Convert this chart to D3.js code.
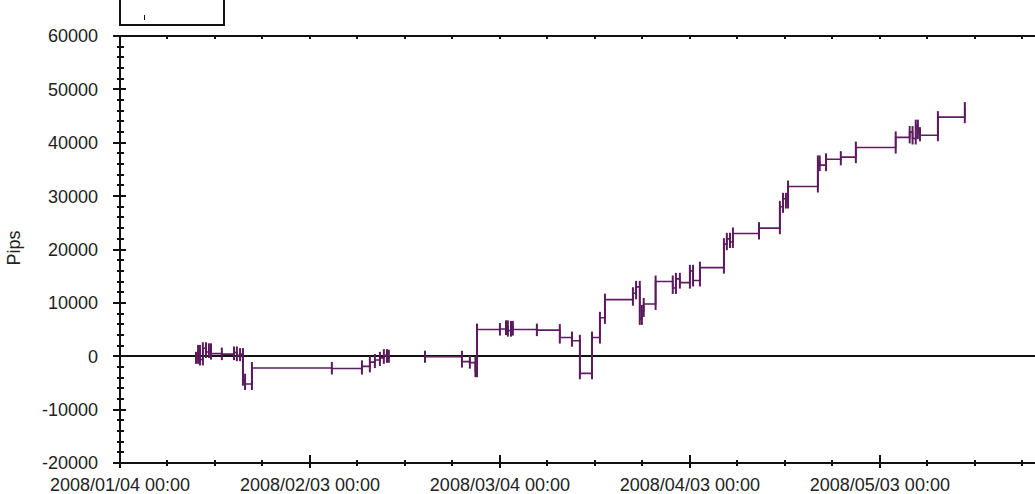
<!DOCTYPE html>
<meta charset="utf-8">
<style>
  body { margin: 0; background: #fff; }
  svg { display: block; }
  .lbl { font: 18px "Liberation Sans", Arial, sans-serif; fill: #222; }
  .ax { stroke: #111; stroke-width: 1.5; shape-rendering: crispEdges; }
</style>
<svg width="1035" height="494"></svg>
<script src="https://cdnjs.cloudflare.com/ajax/libs/d3/7.8.5/d3.min.js"></script>
<script>

// trade closes and running pips total (null = gap in the record)
var tradeTimes = [
  "2008/01/16 00:00", "2008/01/16 08:00", "2008/01/16 15:00", "2008/01/17 02:00", "2008/01/17 14:00",
  "2008/01/18 01:00", "2008/01/18 09:00", "2008/01/20 02:00", "2008/01/22 00:00", "2008/01/22 11:00",
  "2008/01/22 23:00", "2008/01/23 10:00", "2008/01/23 18:00", "2008/01/24 20:00", "2008/02/06 11:00",
  "2008/02/11 05:00", "2008/02/12 11:00", "2008/02/13 06:00", "2008/02/14 01:00", "2008/02/14 16:00",
  "2008/02/15 04:00", "2008/02/15 11:00", "2008/02/18 00:00", "2008/02/21 04:00",
  "2008/02/27 00:00", "2008/02/28 06:00", "2008/02/29 03:00", "2008/02/29 09:00",
  "2008/03/04 00:00", "2008/03/04 23:00", "2008/03/05 06:00", "2008/03/05 18:00", "2008/03/06 01:00",
  "2008/03/09 20:00", "2008/03/13 11:00", "2008/03/15 09:00", "2008/03/16 15:00", "2008/03/18 13:00",
  "2008/03/19 19:00", "2008/03/20 14:00", "2008/03/25 00:00", "2008/03/25 12:00", "2008/03/26 02:00",
  "2008/03/26 10:00", "2008/03/26 17:00", "2008/03/28 14:00", "2008/03/31 07:00", "2008/03/31 19:00",
  "2008/04/01 10:00", "2008/04/03 00:00", "2008/04/03 12:00", "2008/04/04 14:00", "2008/04/08 09:00",
  "2008/04/08 20:00", "2008/04/09 08:00", "2008/04/09 19:00", "2008/04/13 22:00", "2008/04/17 05:00",
  "2008/04/17 17:00", "2008/04/18 04:00", "2008/04/18 12:00", "2008/04/23 05:00", "2008/04/23 12:00",
  "2008/04/24 12:00", "2008/04/26 20:00", "2008/04/29 05:00", "2008/05/05 12:00", "2008/05/07 17:00",
  "2008/05/08 04:00", "2008/05/08 16:00", "2008/05/09 00:00", "2008/05/09 08:00", "2008/05/12 04:00",
  "2008/05/16 10:00"
];
var pips = [
  -300, 1000, -600, 1500, 800,
  1300, 500, 400, 700, 200,
  400, -4400, -5200, -2200, -2300,
  -1900, -1100, -700, -300, 200,
  -100, 100, null, -100,
  -1000, -1200, -2800, 5000,
  5100, 5600, 4800, 5500, 5000,
  4900, 3500, 2900, -3200, 3500,
  7200, 10600, 11800, 13000, 7000,
  8500, 9800, 14000, 12800, 14500,
  13800, 16000, 14200, 16600, 21000,
  22000, 21400, 23000, 24000, 28000,
  29500, 28800, 31800, 36500, 35800,
  36900, 37300, 39100, 41000, 42000,
  40800, 43200, 41800, 41400, 44800,
  46500
];
var xTickLabels = ["2008/01/04 00:00", "2008/02/03 00:00", "2008/03/04 00:00", "2008/04/03 00:00", "2008/05/03 00:00"];
var yTicks = [-20000, -10000, 0, 10000, 20000, 30000, 40000, 50000, 60000];

var svg = d3.select("svg");
var parse = d3.timeParse("%Y/%m/%d %H:%M");
var padL = 120, padR = 1035, padT = 36, padB = 463;

var t0 = parse("2008/01/04 00:00");
var x = d3.scaleTime()
    .domain([t0, d3.timeHour.offset(t0, 144.5 * 24)])
    .range([padL, padR]);
var y = d3.scaleLinear().domain([-20000, 60000]).range([padB, padT]);

var data = tradeTimes.map(function(t, i) { return {t: parse(t), v: pips[i]}; });

// frame lines
svg.append("line").attr("class", "ax").attr("x1", 113).attr("x2", padR).attr("y1", padT).attr("y2", padT);
svg.append("line").attr("class", "ax").attr("x1", 113).attr("x2", padR).attr("y1", padB).attr("y2", padB);
svg.append("line").attr("class", "ax").attr("x1", padL).attr("x2", padL).attr("y1", padT).attr("y2", padB);

// remnant of legend box at top left
svg.append("path").attr("class", "ax").attr("fill", "none")
    .attr("d", "M120,0V25H224V0");
svg.append("line").attr("class", "ax").attr("x1", 144).attr("x2", 144).attr("y1", 15).attr("y2", 20).style("stroke-width", 1);

// x ticks every 7.5 days, major every 30
var xt = d3.range(0, 145, 7.5).map(function(d) { return d3.timeMinute.offset(t0, d * 24 * 60); });
xt.forEach(function(d, i) {
  var px = Math.round(x(d));
  var major = i % 4 === 0;
  if (i > 0) {
    svg.append("line").attr("class", "ax").attr("x1", px).attr("x2", px)
      .attr("y1", padB - (major ? 8 : 3)).attr("y2", padB + (major ? 5 : 3));
    svg.append("line").attr("class", "ax").attr("x1", px).attr("x2", px)
      .attr("y1", padT).attr("y2", padT + 3);
  } else {
    svg.append("line").attr("class", "ax").attr("x1", px).attr("x2", px)
      .attr("y1", padB).attr("y2", padB + 5);
  }
});
svg.selectAll(".xl").data(xTickLabels).enter().append("text")
    .attr("class", "lbl xl")
    .attr("x", function(d) { return x(parse(d)); })
    .attr("y", 491)
    .attr("text-anchor", "middle")
    .text(function(d) { return d; });

// y ticks
d3.range(-20000, 60001, 2000).forEach(function(v) {
  var py = Math.round(y(v));
  var major = v % 10000 === 0;
  svg.append("line").attr("class", "ax")
    .attr("x1", major ? 113 : 117).attr("x2", major ? 126 : 124)
    .attr("y1", py).attr("y2", py);
});
svg.selectAll(".yl").data(yTicks).enter().append("text")
    .attr("class", "lbl yl")
    .attr("x", 98)
    .attr("y", function(d) { return y(d); })
    .attr("dy", "0.36em")
    .attr("text-anchor", "end")
    .text(function(d) { return d; });

svg.append("text").attr("class", "lbl")
    .attr("transform", "translate(20,248) rotate(-90)")
    .attr("text-anchor", "middle")
    .text("Pips");

// zero line
svg.append("line").attr("class", "ax").attr("x1", padL).attr("x2", padR)
    .attr("y1", Math.round(y(0))).attr("y2", Math.round(y(0)));

// equity step line
var line = d3.line()
    .defined(function(d) { return d.v != null; })
    .curve(d3.curveStepAfter)
    .x(function(d) { return x(d.t); })
    .y(function(d) { return y(d.v); });

svg.append("path").datum(data)
    .attr("fill", "none")
    .attr("stroke", "#5e1d60")
    .attr("stroke-width", 1.6)
    .attr("d", line);

// tick at every trade, spanning the change
var prev = null;
data.forEach(function(d) {
  if (d.v == null) { prev = null; return; }
  var p = prev == null ? d.v : prev;
  var hi = Math.max(p, d.v), lo = Math.min(p, d.v);
  svg.append("line")
    .attr("x1", x(d.t)).attr("x2", x(d.t))
    .attr("y1", y(hi) - 6).attr("y2", y(lo) + 6)
    .attr("stroke", "#5a1a5c")
    .attr("stroke-width", 2);
  prev = d.v;
});

</script>
